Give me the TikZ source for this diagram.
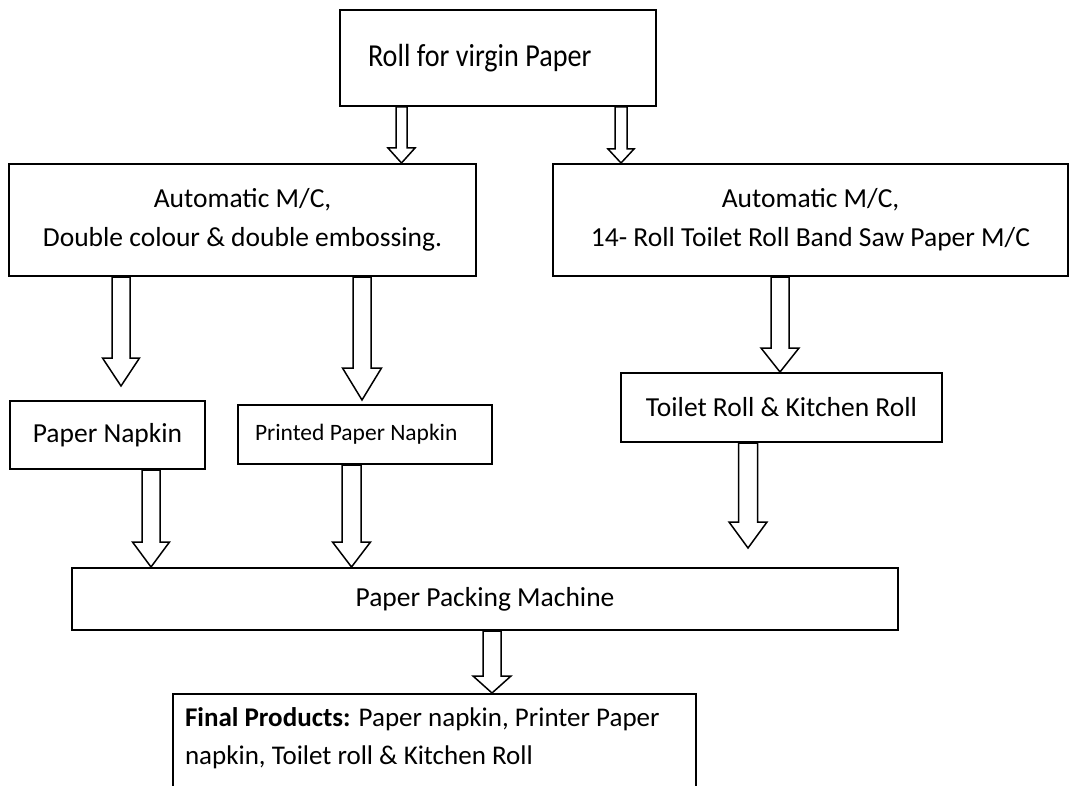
\documentclass[tikz,border=0pt]{standalone}
\usepackage{fontspec}
\setmainfont{Carlito}
\newfontfamily\titlefont[FakeStretch=0.88]{Carlito}
\usetikzlibrary{calc}

\begin{document}
\begin{tikzpicture}[
    x=1pt, y=-1pt,
    box_node/.style={
        rectangle,
        draw=black,
        line width=2pt,
        fill=white,
        align=center,
        inner sep=0pt,
        font=\fontsize{27.5}{39}\selectfont
    },
    left_node/.style={
        box_node,
        align=flush left
    },
    hollow_arrow/.style n args={4}{
        draw=black,
        fill=white,
        line width=1.5pt,
        to path={
            let \p1=(\tikztostart), \p2=(\tikztotarget) in
            (\x1-#1pt,\y1) -- (\x1-#1pt,\y2+#3pt+#4pt) -- (\x1-#2pt,\y2+#3pt+#4pt)
            -- (\x1,\y2+#4pt) -- (\x1+#2pt,\y2+#3pt+#4pt) -- (\x1+#1pt,\y2+#3pt+#4pt)
            -- (\x1+#1pt,\y1) -- cycle
        }
    }
]
    \useasboundingbox (0,0) rectangle (1070,786);

    % Boxes placed at fixed coordinates
    \node[left_node, minimum height=96pt, text width=260pt, inner xsep=28pt,
          font=\titlefont\fontsize{32}{38}\selectfont] (virgin) at (498,58) {Roll for virgin Paper};

    \node[box_node, minimum width=467pt, minimum height=112pt] (napkin_mc) at (242.5,220)
        {Automatic M/C,\\Double colour \& double embossing.};

    \node[box_node, minimum width=515pt, minimum height=112pt] (toilet_mc) at (810.5,220)
        {Automatic M/C,\\14- Roll Toilet Roll Band Saw Paper M/C};

    \node[box_node, minimum width=195pt, minimum height=68pt] (napkin) at (107.5,435) {Paper Napkin};

    \node[left_node, minimum height=59pt, text width=220pt, inner xsep=17pt,
          font=\fontsize{23.5}{28}\selectfont] (printed) at (365,434.5) {Printed Paper Napkin};

    \node[box_node, minimum width=321pt, minimum height=69pt] (rolls) at (781.5,407.5)
        {Toilet Roll \& Kitchen Roll};

    \node[box_node, minimum width=826pt, minimum height=62pt] (packing) at (485,599)
        {Paper Packing Machine};

    \node[left_node, anchor=north west, text width=499pt, inner xsep=12pt, inner ysep=14pt,
          font=\fontsize{27}{38}\selectfont, text depth=70pt] (final) at (172,693)
        {\mbox{\textbf{Final Products:} Paper napkin, Printer Paper}\\\mbox{napkin, Toilet roll \& Kitchen Roll}};

    \coordinate (rolls_end) at (748,548);

    % Block arrows
    \draw[hollow_arrow={5.5}{13.5}{15}{0}] (virgin.south -| 401.5,0) to (napkin_mc.north -| 401.5,0);
    \draw[hollow_arrow={6}{13}{14}{0}] (virgin.south -| 621,0) to (toilet_mc.north -| 621,0);
    \draw[hollow_arrow={9}{18.5}{28}{14}] (napkin_mc.south -| 121,0) to (napkin.north -| 121,0);
    \draw[hollow_arrow={9}{19.5}{32}{4}] (napkin_mc.south -| 362,0) to (printed.north -| 362,0);
    \draw[hollow_arrow={9}{19}{24}{0}] (toilet_mc.south -| 780,0) to (rolls.north -| 780,0);
    \draw[hollow_arrow={9}{18.5}{25}{0}] (napkin.south -| 151,0) to (packing.north -| 151,0);
    \draw[hollow_arrow={9.5}{19}{25}{0}] (printed.south -| 351.5,0) to (packing.north -| 351.5,0);
    \draw[hollow_arrow={9.5}{19}{26}{0}] (rolls.south -| 748,0) to (rolls_end);
    \draw[hollow_arrow={9}{19}{17}{0}] (packing.south -| 492,0) to (final.north -| 492,0);

\end{tikzpicture}
\end{document}
